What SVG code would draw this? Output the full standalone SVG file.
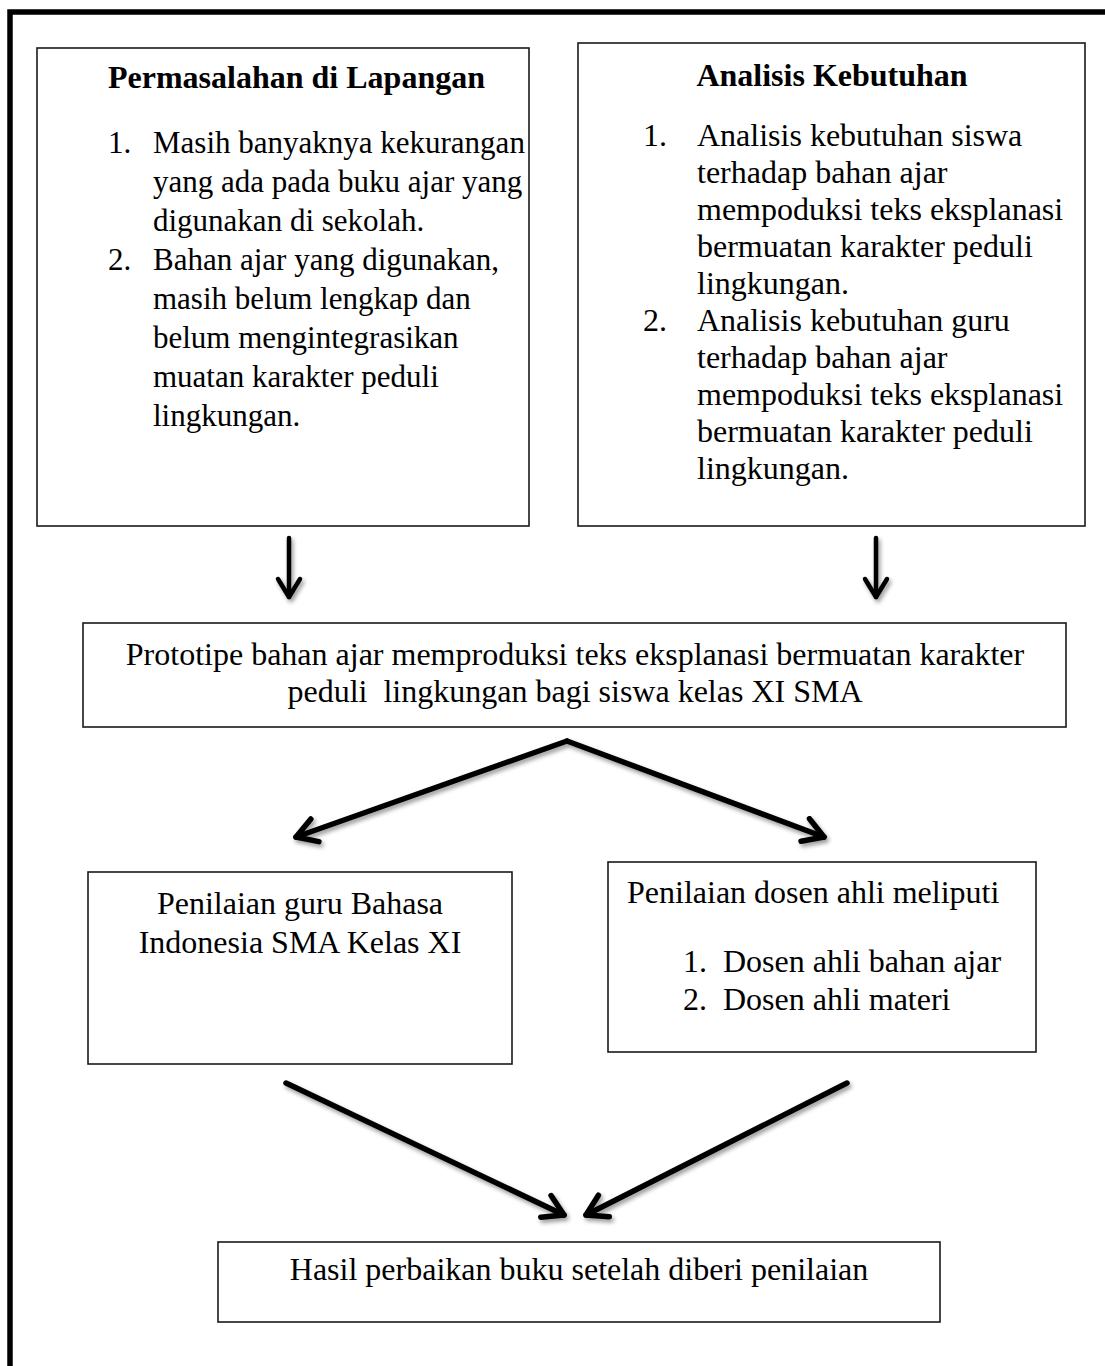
<svg xmlns="http://www.w3.org/2000/svg" width="1105" height="1366" viewBox="0 0 1105 1366">
<style>
.t{font-family:"Liberation Serif","Times New Roman",serif;font-size:32px;fill:#000}
.s{font-size:31px}
.b{font-weight:bold}
.m{text-anchor:middle}
.box{fill:#fff;stroke:#1a1a1a;stroke-width:1.6}
.arr{fill:none;stroke:#000;stroke-width:5.5;stroke-linecap:round;stroke-linejoin:round}
.darr{fill:none;stroke:#000;stroke-width:4.5;stroke-linecap:round;stroke-linejoin:round}
</style>
<defs>
<filter id="sh" x="-10%" y="-10%" width="130%" height="140%">
<feDropShadow dx="2" dy="3" stdDeviation="2" flood-color="#000" flood-opacity="0.4"/>
</filter>
<marker id="ah" viewBox="0 0 30 30" refX="26" refY="15" markerWidth="30" markerHeight="30" markerUnits="userSpaceOnUse" orient="auto">
<path d="M6,3 L26,15 L6,27" fill="none" stroke="#000" stroke-width="5.5" stroke-linecap="round" stroke-linejoin="round"/>
</marker>
<marker id="ahs" viewBox="0 0 30 30" refX="24" refY="15" markerWidth="30" markerHeight="30" markerUnits="userSpaceOnUse" orient="auto">
<path d="M6,4 L24,15 L6,26" fill="none" stroke="#000" stroke-width="4.5" stroke-linecap="round" stroke-linejoin="round"/>
</marker>
</defs>
<rect x="0" y="0" width="1105" height="1366" fill="#fff"/>
<rect id="frame" x="10" y="12" width="1300" height="1500" fill="none" stroke="#000" stroke-width="5.5"/>

<g id="n1">
<rect class="box" x="37" y="48" width="492" height="478"/>
<text class="t b" x="108" y="88">Permasalahan di Lapangan</text>
<text class="t s" x="108" y="153">1.</text><text class="t s" x="153" y="153">Masih banyaknya kekurangan</text>
<text class="t s" x="153" y="192">yang ada pada buku ajar yang</text>
<text class="t s" x="153" y="231">digunakan di sekolah.</text>
<text class="t s" x="108" y="270">2.</text><text class="t s" x="153" y="270">Bahan ajar yang digunakan,</text>
<text class="t s" x="153" y="309">masih belum lengkap dan</text>
<text class="t s" x="153" y="348">belum mengintegrasikan</text>
<text class="t s" x="153" y="387">muatan karakter peduli</text>
<text class="t s" x="153" y="426">lingkungan.</text>
</g>

<g id="n2">
<rect class="box" x="578" y="43" width="507" height="483"/>
<text class="t b m" x="832" y="86">Analisis Kebutuhan</text>
<text class="t" x="643" y="146">1.</text><text class="t" x="697" y="146">Analisis kebutuhan siswa</text>
<text class="t" x="697" y="183">terhadap bahan ajar</text>
<text class="t" x="697" y="220">mempoduksi teks eksplanasi</text>
<text class="t" x="697" y="257">bermuatan karakter peduli</text>
<text class="t" x="697" y="294">lingkungan.</text>
<text class="t" x="643" y="331">2.</text><text class="t" x="697" y="331">Analisis kebutuhan guru</text>
<text class="t" x="697" y="368">terhadap bahan ajar</text>
<text class="t" x="697" y="405">mempoduksi teks eksplanasi</text>
<text class="t" x="697" y="442">bermuatan karakter peduli</text>
<text class="t" x="697" y="479">lingkungan.</text>
</g>

<g id="n3">
<rect class="box" x="83" y="623" width="983" height="104"/>
<text class="t m" x="575" y="665">Prototipe bahan ajar memproduksi teks eksplanasi bermuatan karakter</text>
<text class="t m" x="575" y="702" style="white-space:pre">peduli  lingkungan bagi siswa kelas XI SMA</text>
</g>

<g id="n4">
<rect class="box" x="88" y="872" width="424" height="192"/>
<text class="t m" x="300" y="914">Penilaian guru Bahasa</text>
<text class="t m" x="300" y="953">Indonesia SMA Kelas XI</text>
</g>

<g id="n5">
<rect class="box" x="608" y="862" width="428" height="190"/>
<text class="t" x="627" y="903">Penilaian dosen ahli meliputi</text>
<text class="t" x="683" y="972">1.</text><text class="t" x="723" y="972">Dosen ahli bahan ajar</text>
<text class="t" x="683" y="1010">2.</text><text class="t" x="723" y="1010">Dosen ahli materi</text>
</g>

<g id="n6">
<rect class="box" x="218" y="1242" width="722" height="80"/>
<text class="t m" x="579" y="1280">Hasil perbaikan buku setelah diberi penilaian</text>
</g>

<g id="connectors" filter="url(#sh)">
<line class="darr" x1="289" y1="538" x2="289" y2="597" marker-end="url(#ahs)"/>
<line class="darr" x1="876" y1="538" x2="876" y2="597" marker-end="url(#ahs)"/>
<line class="arr" x1="567" y1="741" x2="296" y2="837" marker-end="url(#ah)"/>
<line class="arr" x1="567" y1="741" x2="824" y2="837" marker-end="url(#ah)"/>
<line class="arr" x1="286" y1="1083" x2="564" y2="1215" marker-end="url(#ah)"/>
<line class="arr" x1="847" y1="1083" x2="586" y2="1215" marker-end="url(#ah)"/>
</g>
</svg>
